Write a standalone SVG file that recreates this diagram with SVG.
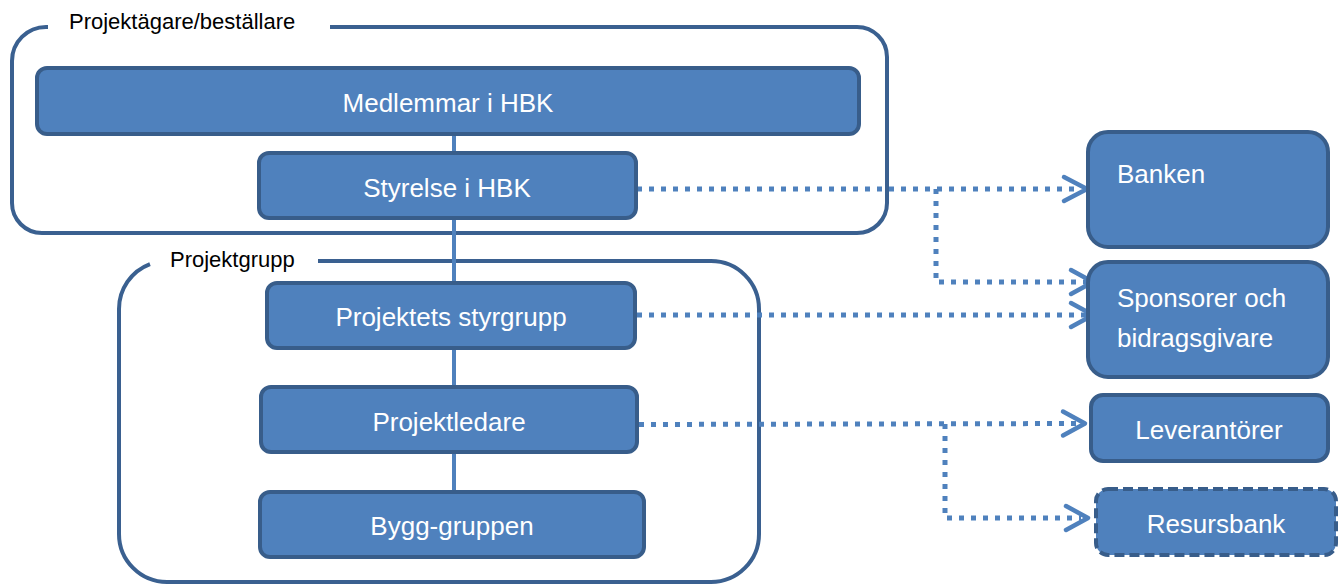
<svg xmlns="http://www.w3.org/2000/svg" width="1344" height="586" viewBox="0 0 1344 586">
<style>
.frame{fill:none;stroke:#3a6090;stroke-width:4}
.node{fill:#4f81bd;stroke:#385d8a;stroke-width:4}
.dash{stroke-dasharray:10 5}
.t{font-family:"Liberation Sans",Arial,sans-serif;font-size:26px;fill:#ffffff}
.c{text-anchor:middle}
.lbl{font-family:"Liberation Sans",Arial,sans-serif;font-size:22px;fill:#000000}
.solid{stroke:#4f81bd;stroke-width:4;fill:none}
.dot{stroke:#4f81bd;stroke-width:5;fill:none;stroke-dasharray:5 7}
.head{stroke:#4f81bd;stroke-width:4.5;fill:none;stroke-linecap:round;stroke-linejoin:round}
</style>
<g id="projektagare">
<path class="frame" d="M330 27 H857 A30 30 0 0 1 887 57 V203 A30 30 0 0 1 857 233 H42 A30 30 0 0 1 12 203 V61 A34 34 0 0 1 46 27 H48"/>
<text class="lbl" x="69" y="29">Projektägare/beställare</text>
</g>
<g id="projektgrupp">
<path class="frame" d="M318 261 H711 A48 48 0 0 1 759 309 V534 A48 48 0 0 1 711 582 H167 A48 48 0 0 1 119 534 V309 A48 48 0 0 1 150 264.1"/>
<text class="lbl" x="170" y="267">Projektgrupp</text>
</g>
<g id="connectors">
<line class="solid" x1="454" y1="134" x2="454" y2="491"/>
<polyline class="dot" points="637,189 1080,189"/>
<polyline class="dot" points="936,189 936,282 1086,282"/>
<polyline class="dot" points="637,315 1086,315"/>
<polyline class="dot" points="639,424.5 1078,423.5"/>
<polyline class="dot" points="945,424 945,518 1081,518"/>
<polyline class="head" points="1064,177 1087,189 1064,201"/>
<polyline class="head" points="1071,270 1093,282 1071,294"/>
<polyline class="head" points="1071,303 1093,315 1071,327"/>
<polyline class="head" points="1063,411.5 1085,423.5 1063,435.5"/>
<polyline class="head" points="1066,506 1088,518 1066,530"/>
</g>
<g id="medlemmar">
<rect class="node" x="37" y="68" width="822" height="66" rx="10"/>
<text class="t c" x="448" y="112">Medlemmar i HBK</text>
</g>
<g id="styrelse">
<rect class="node" x="259" y="153" width="377" height="65" rx="10"/>
<text class="t c" x="447" y="197">Styrelse i HBK</text>
</g>
<g id="styrgrupp">
<rect class="node" x="267" y="283" width="368" height="65" rx="10"/>
<text class="t c" x="451" y="326">Projektets styrgrupp</text>
</g>
<g id="projektledare">
<rect class="node" x="261" y="387" width="376" height="65" rx="10"/>
<text class="t c" x="449" y="431">Projektledare</text>
</g>
<g id="bygg">
<rect class="node" x="260" y="492" width="384" height="65" rx="10"/>
<text class="t c" x="452" y="535">Bygg-gruppen</text>
</g>
<g id="banken">
<rect class="node" x="1088" y="132" width="240" height="115" rx="20"/>
<text class="t" x="1117" y="183">Banken</text>
</g>
<g id="sponsorer">
<rect class="node" x="1088" y="262" width="240" height="115" rx="20"/>
<text class="t" x="1117" y="307">Sponsorer och</text>
<text class="t" x="1117" y="347">bidragsgivare</text>
</g>
<g id="leverantorer">
<rect class="node" x="1091" y="395" width="237" height="66" rx="12"/>
<text class="t c" x="1209" y="439">Leverantörer</text>
</g>
<g id="resursbank">
<rect class="node dash" x="1096" y="489" width="240" height="66" rx="12"/>
<text class="t c" x="1216" y="533">Resursbank</text>
</g>
</svg>
